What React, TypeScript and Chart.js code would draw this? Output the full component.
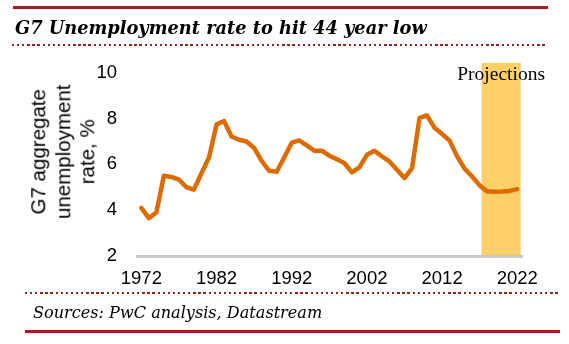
import React, { useEffect, useRef } from "react";
import { Chart, registerables } from "chart.js";

Chart.register(...registerables);

const years = [
  1972, 1973, 1974, 1975, 1976, 1977, 1978, 1979, 1980, 1981,
  1982, 1983, 1984, 1985, 1986, 1987, 1988, 1989, 1990, 1991,
  1992, 1993, 1994, 1995, 1996, 1997, 1998, 1999, 2000, 2001,
  2002, 2003, 2004, 2005, 2006, 2007, 2008, 2009, 2010, 2011,
  2012, 2013, 2014, 2015, 2016, 2017, 2018, 2019, 2020, 2021, 2022,
];
const unemployment = [
  4.1, 3.65, 3.9, 5.5, 5.45, 5.33, 5.0, 4.9, 5.62, 6.3,
  7.75, 7.9, 7.22, 7.08, 7.0, 6.72, 6.15, 5.72, 5.68, 6.3,
  6.95, 7.05, 6.83, 6.6, 6.6, 6.38, 6.23, 6.06, 5.65, 5.87,
  6.42, 6.6, 6.35, 6.13, 5.77, 5.4, 5.84, 8.04, 8.14, 7.6,
  7.33, 7.04, 6.35, 5.81, 5.47, 5.08, 4.82, 4.8, 4.81, 4.84, 4.92,
];
const xTicks = [1972, 1982, 1992, 2002, 2012, 2022];
const yTicks = [2, 4, 6, 8, 10];
const projectionStart = 2017.25;
const projectionEnd = 2022.45;
const projectionLabel = "Projections";
const titleText = "G7 Unemployment rate to hit 44 year low";
const sourceText = "Sources: PwC analysis, Datastream";
const yTitle = ["G7 aggregate", "unemployment", "rate, %"];

const RED = "#A32020";
const ORANGE = "#DE6B00";
const BAND = "#FFD066";
const AXIS = "#C8C8C8";

const dotted = `repeating-linear-gradient(to right, ${RED} 0px, ${RED} 2.3px, transparent 2.3px, transparent 5.1px)`;

const bandPlugin = {
  id: "projBand",
  beforeDraw(chart: any) {
    const { ctx, scales } = chart;
    const x = scales.x;
    const y = scales.y;
    const x0 = x.getPixelForValue(projectionStart);
    const x1 = x.getPixelForValue(projectionEnd);
    const top = y.getPixelForValue(10.45);
    const base = y.getPixelForValue(2);
    ctx.save();
    ctx.fillStyle = BAND;
    ctx.fillRect(x0, top, x1 - x0, base - top);
    ctx.restore();
  },
  afterDraw(chart: any) {
    const { ctx, chartArea, scales } = chart;
    const x = scales.x;
    const y = scales.y;
    const base = Math.round(y.getPixelForValue(2));
    ctx.save();
    ctx.globalAlpha = 1;
    ctx.globalCompositeOperation = "source-over";
    ctx.strokeStyle = AXIS;
    ctx.lineWidth = 3;
    ctx.lineCap = "butt";
    ctx.beginPath();
    ctx.moveTo(chartArea.left, base + 0.5);
    ctx.lineTo(chartArea.right, base + 0.5);
    ctx.stroke();
    const cx = (x.getPixelForValue(projectionStart) + x.getPixelForValue(projectionEnd)) / 2;
    ctx.font = "19.5px 'Liberation Serif'";
    ctx.fillStyle = "#000";
    ctx.textAlign = "center";
    ctx.textBaseline = "alphabetic";
    ctx.fillText(projectionLabel, cx, chartArea.top + 7);
    ctx.restore();
  },
};

export default function App() {
  const ref = useRef<HTMLCanvasElement>(null);

  useEffect(() => {
    if (!ref.current) return;
    const chart = new Chart(ref.current, {
      type: "line",
      data: {
        datasets: [
          {
            data: years.map((yr, i) => ({ x: yr, y: unemployment[i] })),
            borderColor: ORANGE,
            borderWidth: 4.5,
            pointRadius: 0,
            tension: 0,
            fill: false,
            borderCapStyle: "round",
            borderJoinStyle: "round",
          },
        ],
      },
      options: {
        responsive: false,
        animation: false,
        events: [],
        layout: { padding: { left: 77.5, right: 46, top: 73, bottom: 42 } },
        plugins: { legend: { display: false }, tooltip: { enabled: false } },
        scales: {
          x: {
            type: "linear",
            min: 1971.3,
            max: 2022.76,
            grid: { display: false, drawTicks: false },
            border: { display: false },
            afterBuildTicks: (s: any) => {
              s.ticks = xTicks.map((v) => ({ value: v }));
            },
            ticks: {
              autoSkip: false,
              maxRotation: 0,
              padding: 12,
              color: "#000",
              font: { family: "'Liberation Sans', Arial", size: 18.5 },
              callback: (v: any) => String(v),
            },
          },
          y: {
            min: 2,
            max: 10,
            grid: { display: false, drawTicks: false },
            border: { display: false },
            afterBuildTicks: (s: any) => {
              s.ticks = yTicks.map((v) => ({ value: v }));
            },
            ticks: {
              padding: 19,
              color: "#000",
              font: { family: "'Liberation Sans', Arial", size: 18.5 },
            },
          },
        },
      },
      plugins: [bandPlugin],
    });
    return () => chart.destroy();
  }, []);

  return (
    <div style={{ position: "absolute", left: 0, top: 0, width: 569, height: 344, background: "#fff", overflow: "hidden" }}>
      <canvas ref={ref} width={569} height={344} style={{ position: "absolute", left: 0, top: 0, width: 569, height: 344 }} />
      <div
        style={{
          position: "absolute",
          left: 62.5 - 100,
          top: 152 - 36.75,
          width: 200,
          height: 73.5,
          transform: "rotate(-90deg)",
          transformOrigin: "50% 50%",
          fontFamily: "'Liberation Sans', Arial, sans-serif",
          fontSize: 20.5,
          lineHeight: "24.5px",
          textAlign: "center",
          color: "#000",
          whiteSpace: "nowrap",
        }}
      >
        {yTitle.map((t) => (
          <div key={t}>{t}</div>
        ))}
      </div>
      <div style={{ position: "absolute", left: 13, top: 6, width: 535, height: 3, background: RED }} />
      <div
        style={{
          position: "absolute",
          left: 15,
          top: 19,
          fontFamily: "'DejaVu Serif', serif",
          fontWeight: "bold",
          fontStyle: "italic",
          fontSize: 17.8,
          lineHeight: "18px",
          whiteSpace: "nowrap",
          color: "#000",
        }}
      >
        {titleText}
      </div>
      <div style={{ position: "absolute", left: 12, top: 44, width: 534, height: 2, background: dotted }} />
      <div style={{ position: "absolute", left: 25, top: 292, width: 534, height: 2, background: dotted }} />
      <div
        style={{
          position: "absolute",
          left: 33,
          top: 304,
          fontFamily: "'DejaVu Serif', serif",
          fontStyle: "italic",
          fontSize: 16.1,
          lineHeight: "17px",
          whiteSpace: "nowrap",
          color: "#000",
        }}
      >
        {sourceText}
      </div>
      <div style={{ position: "absolute", left: 25, top: 330, width: 535, height: 3, background: RED }} />
    </div>
  );
}
